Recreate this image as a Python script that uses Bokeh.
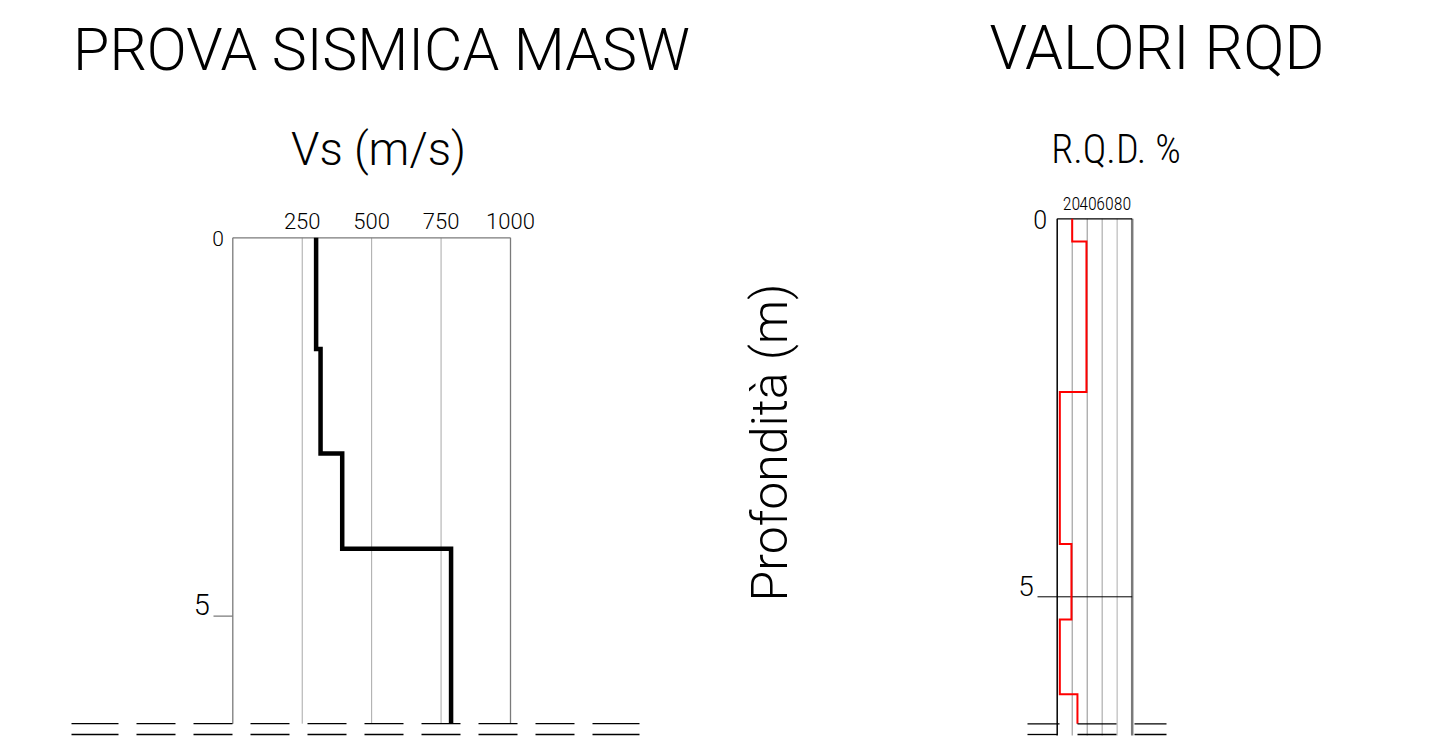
from math import pi
from bokeh.plotting import figure
from bokeh.models import Range1d
from bokeh.core.properties import value
from bokeh.embed import file_html
from bokeh.resources import INLINE

# ---------------- data ----------------
vs_top = [0.0, 1.47, 2.85, 4.11]
vs_bottom = [1.47, 2.85, 4.11, 6.42]
vs_values = [300, 316, 394, 786]
vs_ticks = [250, 500, 750, 1000]
vs_tick_labels = ["250", "500", "750", "1000"]

rqd_top = [0.0, 0.30, 2.29, 4.30, 5.30, 6.29]
rqd_bottom = [0.30, 2.29, 4.30, 5.30, 6.29, 6.68]
rqd_values = [20, 39, 3.5, 19, 3.5, 27]
rqd_ticks = [20, 40, 60, 80]
rqd_tick_labels = ["20", "40", "60", "80"]

depth_ticks = [0, 5]
depth_tick_labels = ["0", "5"]

title_left = "PROVA SISMICA MASW"
title_right = "VALORI RQD"
xlabel_left = "Vs (m/s)"
xlabel_right = "R.Q.D. %"
ylabel = "Profondità (m)"

# ---------------- layout helpers ----------------
W, H = 1422, 740
M = 0
BL = 0.41  # baseline correction (fraction of font size)
THIN = value("Roboto Light")
NARROW = value("Roboto Condensed Light, Roboto Condensed, DejaVu Sans Condensed, Roboto Light")


def make_range(p0, v0, p1, v1, size, vertical=False):
    c0, c1 = p0 - M, p1 - M
    k = (v1 - v0) / (c1 - c0)
    first = v0 - c0 * k
    last = v0 + (size - c0) * k
    if vertical:
        return Range1d(start=last, end=first)
    return Range1d(start=first, end=last)


def to_x(rng, pimg):
    return rng.start + (pimg - M) * (rng.end - rng.start) / W


def to_y(rng, pimg):
    top, bottom = rng.end, rng.start
    return top + (pimg - M) * (bottom - top) / H


def steps(vals, tops, bottoms):
    xs, ys = [], []
    for v, t, b in zip(vals, tops, bottoms):
        xs += [v, v]
        ys += [t, b]
    return xs, ys


x_vs = make_range(232.3, 0, 510.0, 1000, W)
y_vs = make_range(237.3, 0, 615.7, 5, H, vertical=True)
x_rq = make_range(1056.7, 0, 1131.7, 100, W)
y_rq = make_range(218.3, 0, 596.3, 5, H, vertical=True)

p = figure(width=W, height=H, x_range=x_vs, y_range=y_vs,
           x_axis_location=None, y_axis_location=None,
           toolbar_location=None, output_backend="svg", min_border=0)
p.extra_x_ranges = {"rqd": x_rq}
p.extra_y_ranges = {"rqd": y_rq}
p.grid.visible = False
p.outline_line_color = None
p.background_fill_color = "white"
p.border_fill_color = "white"


def label(x, y, txt, size, font=THIN, align="center", dx=0, dy=0, **kw):
    p.text(x=x, y=y, text=txt, x_offset=dx, y_offset=dy - BL * size,
           text_align=align, text_baseline="alphabetic", text_font=font,
           text_font_size=f"{size}px", text_color="black", **kw)


# ---------------- left chart: Vs ----------------
vs_max_depth = vs_bottom[-1]
p.segment(x0=vs_ticks[:-1], x1=vs_ticks[:-1], y0=0, y1=vs_max_depth,
          line_color="#a8a8a8", line_width=1)
p.segment(x0=[0, vs_ticks[-1]], x1=[0, vs_ticks[-1]], y0=0, y1=vs_max_depth,
          line_color="#7a7a7a", line_width=1.3)
p.segment(x0=[0], x1=[vs_ticks[-1]], y0=[0], y1=[0], line_color="#7a7a7a", line_width=1.3)
p.segment(x0=[to_x(x_vs, 213)], x1=[0], y0=[5], y1=[5], line_color="#7a7a7a", line_width=1.3)

xs, ys = steps(vs_values, vs_top, vs_bottom)
p.line(xs, ys, line_color="black", line_width=4.5, line_join="miter", line_cap="butt")

label(vs_ticks, [0] * len(vs_ticks), vs_tick_labels, 22, dy=-8)
label([0], [0], [depth_tick_labels[0]], 21, align="right", dx=-9, dy=9.5)
label([0], [5], [depth_tick_labels[1]], 29, align="right", dx=-23, dy=0.5)

yb1 = vs_max_depth
yb2 = to_y(y_vs, 734)
for yb in (yb1, yb2):
    p.line([to_x(x_vs, 71), to_x(x_vs, 639)], [yb, yb], line_color="black", line_width=1.3,
           line_dash="47 18 39 18 39 18 39 18 39 18 39 18 39 18 39 18 39 18 47")

# ---------------- right chart: RQD ----------------
R = dict(x_range_name="rqd", y_range_name="rqd")
rq_max = rqd_bottom[-1]
rq_ext = to_y(y_rq, 735)
grid_cols = ["#8e8e8e", "#8e8e8e", "#b4b4b4", "#cccccc"]
grid_w = [1, 1, 1.3, 1.6]
for t, c, w in zip(rqd_ticks, grid_cols, grid_w):
    p.segment(x0=[t], x1=[t], y0=[0], y1=[rq_ext], line_color=c, line_width=w, **R)
p.segment(x0=[100], x1=[100], y0=[0], y1=[rq_ext], line_color="#7a7a7a", line_width=2.5, **R)
p.segment(x0=[0], x1=[0], y0=[0], y1=[rq_ext], line_color="black", line_width=1.5, **R)
p.segment(x0=[0], x1=[100], y0=[0], y1=[0], line_color="black", line_width=1.3, **R)
p.segment(x0=[to_x(x_rq, 1037)], x1=[100], y0=[5], y1=[5], line_color="black", line_width=1, **R)

xs, ys = steps(rqd_values, rqd_top, rqd_bottom)
p.line(xs, ys, line_color="#ff0000", line_width=2, line_join="miter", **R)

rb2 = to_y(y_rq, 734)
a, b, c, d, e, f = (to_x(x_rq, v) for v in (1027, 1059, 1077, 1116, 1134, 1166))
p.multi_line(xs=[[a, b], [c, d], [e, f], [a, 0], [c, d], [e, f]],
             ys=[[rq_max, rq_max]] * 3 + [[rb2, rb2]] * 3,
             line_color="black", line_width=1.3, **R)

rq_label_x = [to_x(x_rq, v) for v in (1071, 1087.5, 1104.5, 1122)]
label(rq_label_x, [0] * 4, rqd_tick_labels, 18, font=NARROW, dy=-8, **R)
label([0], [0], [depth_tick_labels[0]], 25, align="right", dx=-10, dy=11, **R)
label([0], [5], [depth_tick_labels[1]], 28, align="right", dx=-23.5, dy=0.5, **R)

# ---------------- titles ----------------
label([to_x(x_vs, 381)], [to_y(y_vs, 73)], [title_left], 59)
label([to_x(x_vs, 1156.5)], [to_y(y_vs, 73)], [title_right], 61)
label([to_x(x_vs, 378)], [to_y(y_vs, 167)], [xlabel_left], 46)
label([to_x(x_vs, 1115.5)], [to_y(y_vs, 165)], [xlabel_right], 40, font=NARROW)

ysize = 50
p.text(x=[to_x(x_vs, 791 - 0.43 * ysize)], y=[to_y(y_vs, 442)], text=[ylabel], angle=pi / 2,
       text_align="center", text_baseline="alphabetic", text_font=THIN,
       text_font_size=f"{ysize}px", text_color="black")

open("out.html", "w").write(file_html(p, INLINE))
